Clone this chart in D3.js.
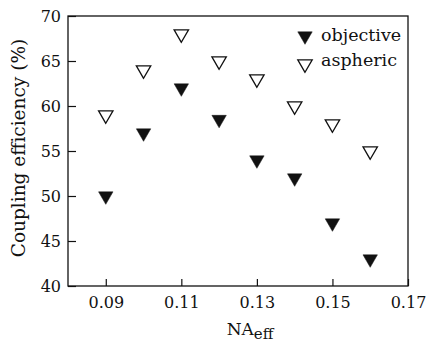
<!DOCTYPE html>
<html>
<head>
<meta charset="utf-8">
<script src="https://cdn.jsdelivr.net/npm/d3@7"></script>
<style>
	body { margin: 0; background: #fff; }
	svg text { font-family: "DejaVu Serif", "Liberation Serif", serif; fill: #111; }
</style>
</head>
<body>
<div id="chart"></div>
<script>
// values
var naValues = [0.09, 0.10, 0.11, 0.12, 0.13, 0.14, 0.15, 0.16];
var objective = [50, 57, 62, 58.5, 54, 52, 47, 43];
var aspheric = [59, 64, 68, 65, 63, 60, 58, 55];
var xTicks = [0.09, 0.11, 0.13, 0.15, 0.17];
var yTicks = [40, 45, 50, 55, 60, 65, 70];
var seriesNames = ["objective", "aspheric"];

var width = 430, height = 343;
var margin = { top: 16, right: 22, bottom: 57, left: 68 };
var w = width - margin.left - margin.right;
var h = height - margin.top - margin.bottom;

var svg = d3.select("#chart")
	.append("svg")
		.attr("width", width)
		.attr("height", height)
	.append("g")
		.attr("transform", "translate(" + margin.left + "," + margin.top + ")");

var x = d3.scaleLinear().domain([0.08, 0.17]).range([0, w]);
var y = d3.scaleLinear().domain([40, 70]).range([h, 0]);

var xAxis = svg.append("g")
	.attr("transform", "translate(0," + h + ")")
	.call(d3.axisBottom(x).tickValues(xTicks).tickFormat(d3.format(".2f")).tickSize(-7).tickPadding(11));
var yAxis = svg.append("g")
	.call(d3.axisLeft(y).tickValues(yTicks).tickSize(-8).tickPadding(7));

[xAxis, yAxis].forEach(function(a) {
	a.select(".domain").remove();
	a.selectAll("line").attr("stroke", "#111").attr("stroke-width", 1.2);
	a.selectAll("text").attr("font-family", "DejaVu Serif").attr("font-size", 16).attr("fill", "#111");
});

// closed frame
svg.append("rect")
	.attr("x", 0).attr("y", 0)
	.attr("width", w).attr("height", h)
	.attr("fill", "none")
	.attr("stroke", "#111")
	.attr("stroke-width", 1.3);

var tri = d3.symbol().type(d3.symbolTriangle).size(90);

function drawSeries(values, filled) {
	svg.append("g").selectAll("path")
		.data(values)
		.enter().append("path")
			.attr("d", tri)
			.attr("transform", function(d, i) {
				return "translate(" + x(naValues[i]) + "," + y(d) + ") rotate(180)";
			})
			.attr("fill", filled ? "#111" : "#fff")
			.attr("stroke", "#111")
			.attr("stroke-width", filled ? 0.5 : 1.3);
}
drawSeries(aspheric, false);
drawSeries(objective, true);

// legend
var legend = svg.append("g").attr("transform", "translate(" + (w - 103) + ",20)");
seriesNames.forEach(function(name, i) {
	var row = legend.append("g").attr("transform", "translate(0," + (i * 25) + ")");
	row.append("path")
		.attr("d", tri)
		.attr("transform", "translate(0," + (i === 0 ? 0 : 3) + ") rotate(180)")
		.attr("fill", i === 0 ? "#111" : "#fff")
		.attr("stroke", "#111")
		.attr("stroke-width", i === 0 ? 0.5 : 1.3);
	row.append("text")
		.attr("x", 16)
		.attr("y", 5)
		.attr("font-size", 17.5)
		.text(name);
});

// axis titles
var xt = svg.append("text")
	.attr("x", 182)
	.attr("y", h + 49)
	.attr("text-anchor", "middle")
	.attr("font-size", 17);
xt.append("tspan").text("NA");
xt.append("tspan").attr("dy", 4).attr("font-size", 15).text("eff");

svg.append("text")
	.attr("transform", "translate(" + (25 - margin.left) + "," + (148 - margin.top) + ") rotate(-90)")
	.attr("text-anchor", "middle")
	.attr("font-size", 18.5)
	.text("Coupling efficiency (%)");
</script>
</body>
</html>
